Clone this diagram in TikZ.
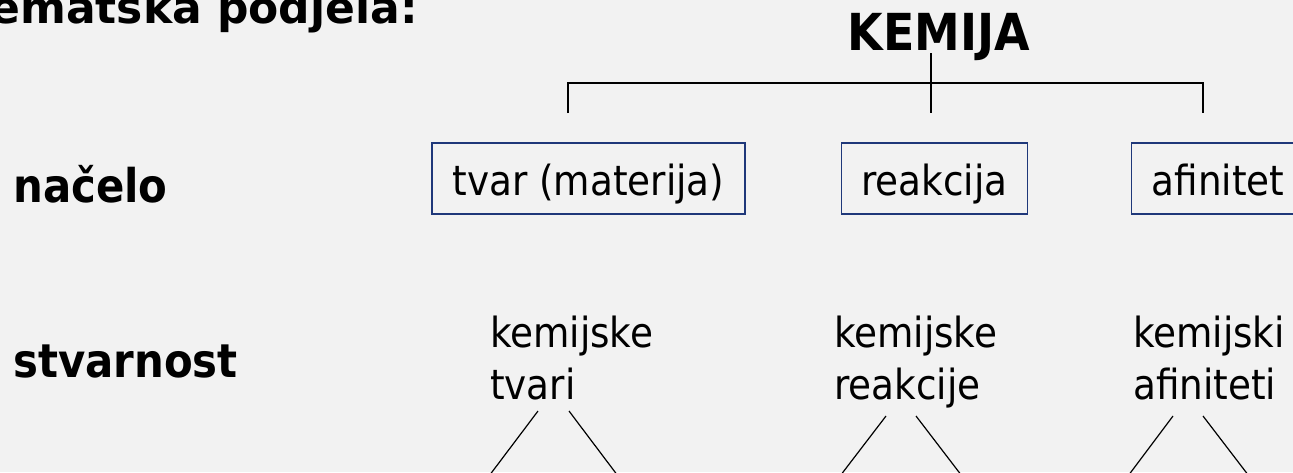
\documentclass[tikz,border=0pt]{standalone}
\usepackage{fontspec}
\setmainfont{DejaVu Sans Condensed}
\newfontfamily\widebold{DejaVu Sans}
\usepackage{tikz}
\usetikzlibrary{positioning}
\definecolor{slidebg}{HTML}{F2F2F2}
\definecolor{boxblue}{RGB}{31,56,122}

\begin{document}
\begin{tikzpicture}[
  x=1pt, y=-1pt,
  naslov/.style={font=\widebold\fontsize{44}{50}\selectfont\bfseries, inner sep=0pt},
  glavni/.style={font=\fontsize{51}{56}\selectfont\bfseries, inner sep=0pt},
  razina/.style={font=\fontsize{46.5}{52}\selectfont\bfseries, inner sep=0pt, anchor=base west},
  pojam/.style={draw=boxblue, line width=1.3pt, font=\fontsize{41.5}{52}\selectfont, inner xsep=20pt, inner ysep=0pt, text height=52pt, text depth=19pt},
  primjer/.style={font=\fontsize{41.5}{52}\selectfont, align=left, inner sep=0pt, anchor=base west},
  crta/.style={line width=1.5pt},
  kosa/.style={line width=1.2pt}
]
  % Background and page size
  \fill[slidebg] (0,0) rectangle (1293,472);
  \useasboundingbox (0,0) rectangle (1293,472);

  % Headings
  \node[naslov, anchor=base east] (tema) at (418,23) {Tematska podjela:};
  \node[glavni, anchor=base] (kem) at (939,50) {KEMIJA};
  \node[razina] (nacelo) at (13,202) {načelo};
  \node[razina] (stvar) at (13,377) {stvarnost};

  % Principles
  \node[pojam, minimum width=313pt, anchor=base] (tvar) at (588.5,195) {tvar (materija)};
  \node[pojam, minimum width=184pt, right=95pt of tvar] (reak) {reakcija};
  \node[pojam, minimum width=168pt, right=103pt of reak] (afin) {afinitet};

  % Reality (base is the last line)
  \node[primjer] (tvari) at (490,399) {kemijske\\tvari};
  \node[primjer] (reakcije) at (834,399) {kemijske\\reakcije};
  \node[primjer] (afiniteti) at (1133,399) {kemijski\\afiniteti};

  % Bracket under KEMIJA
  \coordinate (kdol) at (931,53);
  \coordinate (ksred) at (931,113);
  \coordinate (klijevo) at (568,83);
  \coordinate (kdesno) at (1203,83);
  \coordinate (klijevodol) at (568,113);
  \coordinate (kdesnodol) at (1203,113);
  \draw[crta] (kdol) -- (ksred);
  \draw[crta] (klijevodol) -- (klijevo) -- (kdesno) -- (kdesnodol);

  % Branches below the examples
  \coordinate (t1) at (538,411); \coordinate (t1d) at (486,480);
  \coordinate (t2) at (569,411); \coordinate (t2d) at (621,480);
  \coordinate (r1) at (886,416); \coordinate (r1d) at (837,480);
  \coordinate (r2) at (916,416); \coordinate (r2d) at (965,480);
  \coordinate (a1) at (1173,416); \coordinate (a1d) at (1125,480);
  \coordinate (a2) at (1203,416); \coordinate (a2d) at (1252,480);
  \draw[kosa] (t1) -- (t1d);
  \draw[kosa] (t2) -- (t2d);
  \draw[kosa] (r1) -- (r1d);
  \draw[kosa] (r2) -- (r2d);
  \draw[kosa] (a1) -- (a1d);
  \draw[kosa] (a2) -- (a2d);

\end{tikzpicture}
\end{document}
